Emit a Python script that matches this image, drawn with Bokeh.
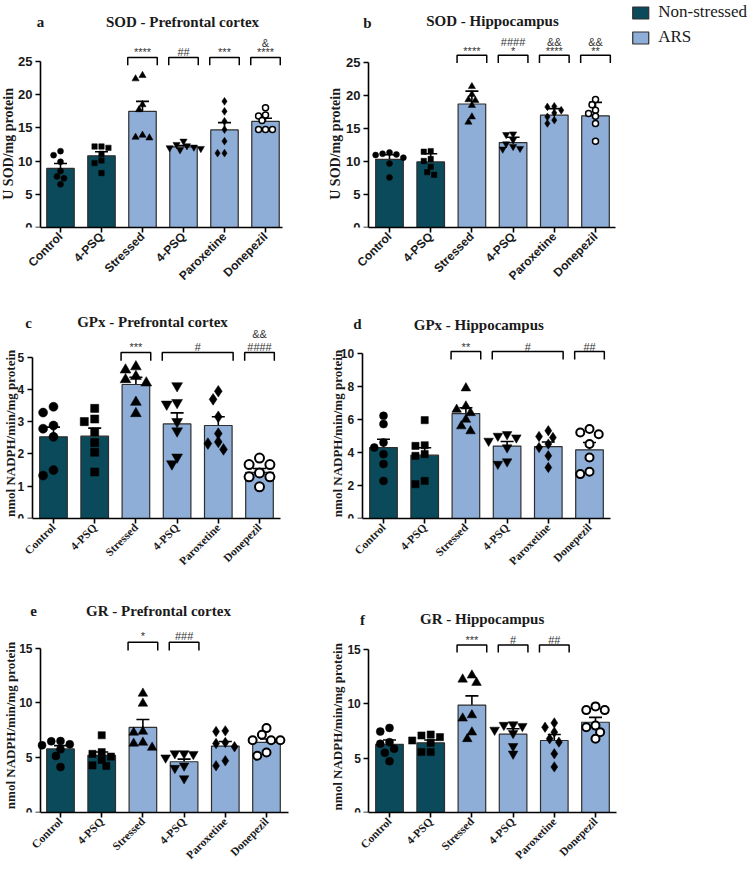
import math
from bokeh.plotting import figure
from bokeh.layouts import row, column
from bokeh.models import (Range1d, FixedTicker, Legend, LegendItem,
                          ColumnDataSource, Whisker, TeeHead)
from bokeh.embed import file_html
from bokeh.resources import INLINE
from bokeh.core.properties import value

# ---------------- data ----------------
categories = ["Control", "4-PSQ", "Stressed", "4-PSQ", "Paroxetine", "Donepezil"]
groups = ["Non-stressed", "Non-stressed", "ARS", "ARS", "ARS", "ARS"]
legend_labels = ["Non-stressed", "ARS"]
markers = ["circle", "square", "triangle", "inverted_triangle", "diamond", "circle"]
open_markers = [False, False, False, False, False, True]

sod_ticks = [0, 5, 10, 15, 20, 25]
gpx_pfc_ticks = [0, 1, 2, 3, 4, 5]
gpx_hip_ticks = [0, 2, 4, 6, 8, 10]
gr_ticks = [0, 5, 10, 15]

# a: SOD - Prefrontal cortex (mean, SEM)
sod_pfc_mean = [8.9, 10.8, 17.5, 12.15, 14.7, 16.0]
sod_pfc_err = [0.75, 0.6, 1.5, 0.2, 1.1, 0.45]
sod_pfc_points = [
    [11.5, 10.9, 9.9, 8.5, 7.7, 7.4, 6.5],
    [12.2, 12.2, 12.0, 11.1, 10.1, 9.7, 8.2],
    [22.4, 22.9, 18.5, 17.75, 13.9, 13.5, 13.6],
    [13.0, 12.5, 12.3, 12.1, 12.0, 11.9, 11.7],
    [19.0, 17.5, 16.0, 14.75, 13.0, 11.2, 11.2],
    [18.05, 16.95, 16.8, 16.1, 14.75, 14.75, 14.75],
]
sod_pfc_sig = [(2, 2, ["****"]), (3, 3, ["##"]), (4, 4, ["***"]), (5, 5, ["****", "&"])]

# b: SOD - Hippocampus (mean, SD)
sod_hip_mean = [10.35, 9.95, 18.75, 12.9, 17.05, 16.95]
sod_hip_err = [0.7, 1.25, 1.95, 0.8, 1.0, 2.05]
sod_hip_points = [
    [11.4, 11.1, 11.2, 11.0, 10.6, 9.7, 7.6],
    [11.6, 11.5, 10.4, 10.1, 9.2, 8.4, 8.0],
    [21.4, 20.2, 19.4, 19.3, 18.55, 16.8, 16.0],
    [14.2, 14.1, 13.3, 12.7, 12.3, 12.0, 11.9],
    [18.4, 18.3, 17.8, 17.4, 16.8, 16.3, 15.8],
    [19.45, 18.65, 17.8, 17.3, 16.9, 15.8, 13.1],
]
sod_hip_sig = [(2, 2, ["****"]), (3, 3, ["*", "####"]), (4, 4, ["****", "&&"]), (5, 5, ["**", "&&"])]

# c: GPx - Prefrontal cortex
gpx_pfc_mean = [2.53, 2.55, 4.15, 2.93, 2.88, 1.43]
gpx_pfc_err = [0.3, 0.25, 0.22, 0.34, 0.27, 0.12]
gpx_pfc_points = [
    [3.46, 3.28, 2.88, 2.78, 2.53, 1.5, 1.33],
    [3.41, 3.08, 3.0, 2.68, 2.35, 2.05, 1.44],
    [4.7, 4.6, 4.4, 4.3, 4.2, 3.6, 3.25],
    [4.11, 3.59, 3.54, 3.0, 2.71, 1.9, 1.69],
    [3.94, 3.69, 3.15, 2.63, 2.37, 2.32, 2.14],
    [1.87, 1.67, 1.67, 1.41, 1.29, 1.29, 0.98],
]
gpx_pfc_sig = [(2, 2, ["***"]), (3, 4, ["#"]), (5, 5, ["####", "&&"])]

# d: GPx - Hippocampus
gpx_hip_mean = [4.3, 3.84, 6.36, 4.39, 4.36, 4.16]
gpx_hip_err = [0.5, 0.45, 0.35, 0.28, 0.28, 0.45]
gpx_hip_points = [
    [6.22, 5.72, 4.6, 4.3, 3.9, 3.3, 2.28],
    [5.96, 4.44, 4.4, 3.9, 3.8, 2.28, 2.08],
    [7.9, 6.8, 6.6, 6.4, 6.0, 5.6, 5.3],
    [5.1, 5.0, 4.9, 4.7, 4.3, 3.45, 3.3],
    [5.32, 4.97, 4.91, 4.51, 4.3, 3.8, 3.09],
    [5.42, 5.21, 5.11, 4.51, 3.7, 2.83, 2.69],
]
gpx_hip_sig = [(2, 2, ["**"]), (3, 4, ["#"]), (5, 5, ["##"])]

# e: GR - Prefrontal cortex
gr_pfc_mean = [5.8, 5.22, 7.76, 4.63, 6.06, 6.39]
gr_pfc_err = [0.3, 0.3, 0.73, 0.24, 0.42, 0.31]
gr_pfc_points = [
    [6.52, 6.49, 6.22, 6.13, 5.76, 5.15, 4.15],
    [7.05, 5.5, 5.35, 5.1, 4.8, 4.3, 4.25],
    [10.86, 9.95, 7.39, 7.3, 6.39, 6.3, 5.93],
    [5.38, 5.38, 5.32, 5.0, 4.26, 4.05, 3.1],
    [7.39, 7.45, 6.3, 6.39, 6.0, 4.72, 4.26],
    [7.7, 7.09, 6.6, 6.6, 6.6, 5.47, 5.17],
]
gr_pfc_sig = [(2, 2, ["*"]), (3, 3, ["###"])]

# f: GR - Hippocampus
gr_hip_mean = [6.27, 6.42, 9.89, 7.21, 6.63, 8.31]
gr_hip_err = [0.4, 0.25, 0.85, 0.5, 0.55, 0.45]
gr_hip_points = [
    [7.79, 7.45, 6.48, 6.33, 5.87, 5.5, 4.72],
    [7.18, 7.09, 6.94, 6.63, 6.42, 5.57, 5.57],
    [12.63, 12.26, 11.96, 8.97, 8.67, 7.39, 6.78],
    [8.1, 8.05, 7.95, 7.6, 7.3, 6.1, 5.4],
    [8.25, 7.85, 7.4, 6.79, 6.48, 5.41, 4.2],
    [9.77, 9.43, 9.43, 8.0, 7.85, 7.4, 6.79],
]
gr_hip_sig = [(2, 2, ["***"]), (3, 3, ["#"]), (4, 4, ["##"])]

# ---------------- style / layout ----------------
DARK = "#0b4a5a"
LIGHT = "#8eaed8"
EDGE = "#2e2e2e"
INK = "#1a1a1a"
SERIF = "Liberation Serif"
SANS = "Liberation Sans"
BAR_W = 0.67
BR_HALF = 0.36
MSCALE = {"circle": 1.0, "square": 0.9, "triangle": 1.2, "inverted_triangle": 1.2, "diamond": 1.3}

ROW_TOP = [0, 290, 580]
ROW_H = [290, 290, 290]
COL_X = [0, 320]


def spread_offsets(vals, ppu, size_px):
    order = sorted(range(len(vals)), key=lambda i: -vals[i])
    placed = []
    offs = [0.0] * len(vals)
    step = size_px * 0.55
    cands = [0.0]
    for k in range(1, 6):
        cands += [-k * step, k * step]
    for i in order:
        ypx = vals[i] * ppu
        chosen = cands[-1]
        for c in cands:
            if all((c - px) ** 2 + (ypx - py) ** 2 >= (0.9 * size_px) ** 2 for px, py in placed):
                chosen = c
                break
        offs[i] = chosen
        placed.append((chosen, ypx))
    return offs


def build(title, letter, ylabel, mean, err, points, ticks, sig, two_sided, g):
    ft, H = ROW_TOP[g["row"]], ROW_H[g["row"]]
    fl, W = COL_X[g["col"]], g["W"]
    ppu = (g["y0"] - g["ytop"]) / ticks[-1]
    fb = round(g["y0"])
    c0, pitch = g["c0"], g["pitch"]

    def dx(px):
        return (px - c0) / pitch

    def dy(py):
        return (fb - py) / ppu

    p = figure(width=W, height=H, x_range=Range1d(dx(fl), dx(fl + W)),
               y_range=Range1d(0, (fb - ft) / ppu),
               output_backend="svg", toolbar_location=None,
               min_border_left=0, min_border_right=0,
               min_border_top=0, min_border_bottom=ft + H - fb,
               outline_line_color=None)
    p.xgrid.visible = False
    p.ygrid.visible = False

    idx = list(range(len(categories)))
    colors = [DARK if gr == legend_labels[0] else LIGHT for gr in groups]
    upper = [m + e for m, e in zip(mean, err)]
    lower = [m - e if two_sided else m for m, e in zip(mean, err)]
    src = ColumnDataSource(dict(x=idx, top=mean, color=colors, upper=upper, lower=lower))
    bars = p.vbar(x="x", top="top", width=BAR_W, source=src, fill_color="color",
                  line_color=EDGE, line_width=1.2)

    ms = g["msize"]
    for i, vals in enumerate(points):
        mk = markers[i]
        size = ms * MSCALE[mk]
        offs = spread_offsets(vals, ppu, ms * 1.05)
        xs = [i + o / pitch for o in offs]
        if open_markers[i]:
            p.scatter(xs, vals, marker=mk, size=size, fill_color="white",
                      line_color="black", line_width=g["olw"])
        else:
            p.scatter(xs, vals, marker=mk, size=size, fill_color="black",
                      line_color="black", line_width=0.5)

    wk = Whisker(source=src, base="x", upper="upper", lower="lower",
                 line_color="black", line_width=1.6,
                 upper_head=TeeHead(size=13, line_width=1.6, line_color="black"),
                 lower_head=(TeeHead(size=13, line_width=1.6, line_color="black")
                             if two_sided else None))
    p.add_layout(wk)

    bx, by, tx, ty, tt = [], [], [], [], []
    for (i0, i1, texts) in sig:
        xl, xr = i0 - BR_HALF, i1 + BR_HALF
        bx.append([xl, xl, xr, xr])
        by.append([dy(g["br_leg"]), dy(g["br_top"]), dy(g["br_top"]), dy(g["br_leg"])])
        for k, t in enumerate(texts):
            tx.append((i0 + i1) / 2)
            ty.append(dy(g["sig_y"][k]))
            tt.append(t)
    p.multi_line(bx, by, line_color="black", line_width=1.5)
    p.text(tx, ty, text=tt, text_font=value(SANS), text_font_size=value("11px"),
           text_color="#333333", text_align="center", text_baseline="middle")

    # panel title, panel letter, y-axis title
    p.text([dx(g["title_xy"][0])], [dy(g["title_xy"][1])], text=[title],
           text_font=value(SERIF), text_font_style="bold", text_font_size=value("15px"),
           text_color=INK, text_align="center", text_baseline="middle")
    p.text([dx(g["letter_xy"][0])], [dy(g["letter_xy"][1])], text=[letter],
           text_font=value(SERIF), text_font_style="bold", text_font_size=value("15px"),
           text_color=INK, text_align="center", text_baseline="middle")
    ylx = max(g["ylab_xy"][0], fl + 8)
    p.text([dx(ylx)], [dy(g["ylab_xy"][1])], text=[ylabel], angle=math.pi / 2,
           text_font=value(SERIF), text_font_style="bold", text_font_size=value(g["ylab_fs"]),
           text_color=INK, text_align="center", text_baseline="middle")

    xaxis, yaxis = p.xaxis[0], p.yaxis[0]
    for a in (xaxis, yaxis):
        a.axis_line_width = 1.6
        a.axis_line_color = "black"
        a.major_tick_line_width = 1.6
        a.major_tick_line_color = "black"
        a.major_tick_out = 5
        a.major_tick_in = 0
        a.minor_tick_line_color = None
    xaxis.ticker = FixedTicker(ticks=idx)
    xaxis.bounds = (dx(g["axis_x"]), dx(g["xend"]))
    xaxis.major_label_overrides = {i: c for i, c in enumerate(categories)}
    xaxis.major_label_orientation = math.pi / 4
    xaxis.major_label_standoff = 2
    xaxis.major_label_text_font = g["xfont"]
    xaxis.major_label_text_font_style = "bold"
    xaxis.major_label_text_font_size = g["xtick_fs"]
    xaxis.major_label_text_color = INK
    yaxis.fixed_location = dx(g["axis_x"])
    yaxis.ticker = FixedTicker(ticks=ticks)
    yaxis.bounds = (0, ticks[-1])
    yaxis.major_label_standoff = 3
    yaxis.major_label_text_font = SANS
    yaxis.major_label_text_font_style = "bold"
    yaxis.major_label_text_font_size = g["ytick_fs"]
    yaxis.major_label_text_color = INK
    return p, bars


GEOM = {
    "a": dict(row=0, col=0, W=320, axis_x=40, c0=60, pitch=41.0, xend=282, y0=227.7, ytop=61.0,
              title_xy=(182, 22), letter_xy=(40, 22), ylab_xy=(7.5, 144), ylab_fs="14px",
              br_top=57.3, br_leg=65, sig_y=(52, 43), msize=6, olw=1.5, xfont=SANS,
              xtick_fs="12px", ytick_fs="13px"),
    "b": dict(row=0, col=1, W=429, axis_x=368, c0=389, pitch=41.2, xend=615, y0=227.7, ytop=62.3,
              title_xy=(492, 21), letter_xy=(367, 23), ylab_xy=(335, 144), ylab_fs="14px",
              br_top=55, br_leg=62.7, sig_y=(51, 42), msize=6, olw=1.5, xfont=SANS,
              xtick_fs="12px", ytick_fs="13px"),
    "c": dict(row=1, col=0, W=320, axis_x=31.7, c0=53, pitch=41.2, xend=280, y0=523.3, ytop=358.3,
              title_xy=(152, 322.7), letter_xy=(28, 323), ylab_xy=(10, 436), ylab_fs="13px",
              br_top=353.3, br_leg=361.7, sig_y=(347.5, 334.3), msize=9, olw=2, xfont=SERIF,
              xtick_fs="11.5px", ytick_fs="12px"),
    "d": dict(row=1, col=1, W=300, axis_x=361.7, c0=383, pitch=41.2, xend=610, y0=517.7, ytop=352.7,
              title_xy=(478.3, 324.3), letter_xy=(357, 323), ylab_xy=(336.7, 433), ylab_fs="13px",
              br_top=351, br_leg=359, sig_y=(346,), msize=8, olw=2, xfont=SERIF,
              xtick_fs="11.5px", ytick_fs="12px"),
    "e": dict(row=2, col=0, W=320, axis_x=40, c0=60, pitch=41.2, xend=288, y0=811.7, ytop=647.3,
              title_xy=(158, 610), letter_xy=(33, 610), ylab_xy=(10, 725), ylab_fs="13px",
              br_top=641.7, br_leg=650, sig_y=(635.5,), msize=8, olw=2, xfont=SERIF,
              xtick_fs="11.5px", ytick_fs="12px"),
    "f": dict(row=2, col=1, W=300, axis_x=368.3, c0=389, pitch=41.2, xend=615.7, y0=814.3, ytop=650,
              title_xy=(481.7, 619), letter_xy=(362, 620), ylab_xy=(336.7, 727.5), ylab_fs="13px",
              br_top=645, br_leg=652.7, sig_y=(640,), msize=8, olw=2, xfont=SERIF,
              xtick_fs="11.5px", ytick_fs="12px"),
}

sod_lab = "U SOD/mg protein"
nadph_lab = "nmol NADPH/min/mg protein"

pa, _ = build("SOD - Prefrontal cortex", "a", sod_lab, sod_pfc_mean, sod_pfc_err, sod_pfc_points,
              sod_ticks, sod_pfc_sig, True, GEOM["a"])
pb, bars_b = build("SOD - Hippocampus", "b", sod_lab, sod_hip_mean, sod_hip_err, sod_hip_points,
                   sod_ticks, sod_hip_sig, True, GEOM["b"])
pc, _ = build("GPx - Prefrontal cortex", "c", nadph_lab, gpx_pfc_mean, gpx_pfc_err, gpx_pfc_points,
              gpx_pfc_ticks, gpx_pfc_sig, False, GEOM["c"])
pd_, _ = build("GPx - Hippocampus", "d", nadph_lab, gpx_hip_mean, gpx_hip_err, gpx_hip_points,
               gpx_hip_ticks, gpx_hip_sig, False, GEOM["d"])
pe, _ = build("GR - Prefrontal cortex", "e", nadph_lab, gr_pfc_mean, gr_pfc_err, gr_pfc_points,
              gr_ticks, gr_pfc_sig, False, GEOM["e"])
pf, _ = build("GR - Hippocampus", "f", nadph_lab, gr_hip_mean, gr_hip_err, gr_hip_points,
              gr_ticks, gr_hip_sig, False, GEOM["f"])

legend = Legend(items=[LegendItem(label=legend_labels[0], renderers=[bars_b], index=0),
                       LegendItem(label=legend_labels[1], renderers=[bars_b], index=2)],
                location="top_right", orientation="vertical", glyph_width=20, glyph_height=15,
                label_standoff=8, spacing=5, padding=0, margin=2, border_line_color=None,
                background_fill_alpha=0, label_text_font=SERIF, label_text_font_size="17px",
                label_text_color=INK)
pb.add_layout(legend)

layout = column(row(pa, pb), row(pc, pd_), row(pe, pf))
open("out.html", "w").write(file_html(layout, INLINE))
